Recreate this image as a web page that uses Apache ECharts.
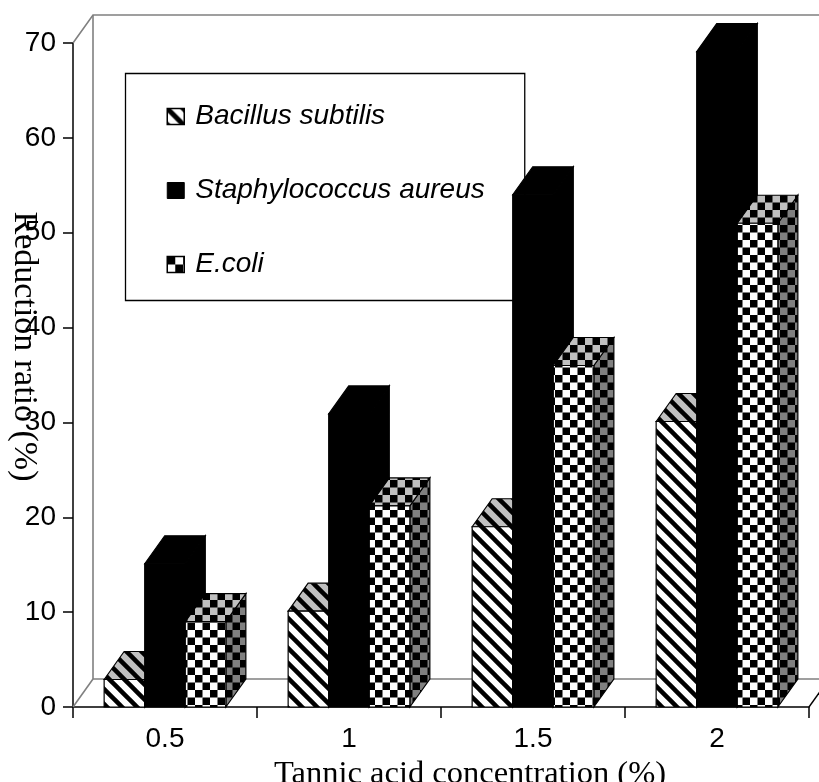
<!DOCTYPE html>
<html><head><meta charset="utf-8">
<style>html,body{margin:0;padding:0;background:#fff}#c{width:819px;height:782px}</style>
<script src="https://cdn.jsdelivr.net/npm/echarts@6/dist/echarts.min.js"></script>
</head><body><div id="c"></div>
<script>
const categories = ['0.5','1','1.5','2'];
const bacillus = [2.9,10.1,19,30.1];
const staph = [15.1,30.9,54,69.1];
const ecoli = [9,21.2,36,51];
const seriesNames = ['Bacillus subtilis','Staphylococcus aureus','E.coli'];
const yTicks = {min:0,max:70,interval:10};

function tile(w,h,draw){const c=document.createElement('canvas');c.width=w;c.height=h;draw(c.getContext('2d'),w,h);return {image:c,repeat:'repeat'};}
function stripes(bg,period,lw){return tile(period,period,(g,w,h)=>{
  g.fillStyle=bg;g.fillRect(0,0,w,h);
  g.strokeStyle='#000';g.lineWidth=lw;
  [-w,0,w].forEach(o=>{g.beginPath();g.moveTo(o-4,-4);g.lineTo(o+w+4,h+4);g.stroke();});
});}
function checks(bg,cell){const p=cell*2;return tile(p,p,(g)=>{
  g.fillStyle=bg;g.fillRect(0,0,p,p);
  g.fillStyle='#000';g.fillRect(0,0,cell,cell);g.fillRect(cell,cell,cell,cell);
});}
const P={
 0:{front:stripes('#fff',15,4.5),top:stripes('#c0c0c0',15,4.5),side:stripes('#808080',15,4.5)},
 1:{front:'#000',top:'#000',side:'#000'},
 2:{front:checks('#fff',7.5),top:checks('#c0c0c0',7.5),side:checks('#808080',7.5)}
};
const DX=20,DY=28;
function barRender(si){return function(params,api){
  const i=api.value(0),v=api.value(1);
  const base=api.coord([i,0]),topP=api.coord([i,v]);
  const band=api.size([1,0])[0];
  const w=band*0.2205;
  const x=base[0]+(si-1.5)*w;
  const yT=topP[1],yB=base[1];
  const line={stroke:'#000',lineWidth:1.2};
  return {type:'group',children:[
    {type:'polygon',shape:{points:[[x+w,yT],[x+w+DX,yT-DY],[x+w+DX,yB-DY],[x+w,yB]]},style:Object.assign({fill:P[si].side},line)},
    {type:'polygon',shape:{points:[[x,yT],[x+DX,yT-DY],[x+w+DX,yT-DY],[x+w,yT]]},style:Object.assign({fill:P[si].top},line)},
    {type:'rect',shape:{x:x,y:yT,width:w,height:yB-yT},style:Object.assign({fill:P[si].front},line)}
  ]};
};}
function wallRender(params,api){
  const r=params.coordSys;
  const g={stroke:'#808080',lineWidth:1.6,fill:null};
  const L=r.x,B=r.y+r.height,T=r.y,R=r.x+r.width;
  return {type:'group',silent:true,children:[
    {type:'polyline',shape:{points:[[L,T],[L+DX,T-DY],[R+DX,T-DY]]},style:g},
    {type:'polyline',shape:{points:[[L+DX,T-DY],[L+DX,B-DY],[R+DX,B-DY]]},style:g},
    {type:'line',shape:{x1:L,y1:B,x2:L+DX,y2:B-DY},style:g},
    {type:'line',shape:{x1:R,y1:B,x2:R+DX,y2:B-DY},style:{stroke:'#000',lineWidth:1.4}}
  ]};
}
function mk(name,vals,si){return {name:name,type:'custom',coordinateSystem:'cartesian2d',clip:false,z:5,
  renderItem:barRender(si),encode:{x:0,y:1},itemStyle:{color:si===1?'#000':'#888'},
  data:vals.map((v,i)=>[i,v])};}

const legendData=[
 {name:seriesNames[0],itemStyle:{color:stripes('#fff',16,5),borderColor:'#000',borderWidth:1.5}},
 {name:seriesNames[1],itemStyle:{color:'#000',borderColor:'#000',borderWidth:1}},
 {name:seriesNames[2],itemStyle:{color:checks('#fff',8),borderColor:'#000',borderWidth:1.5}}
];

const chart=echarts.init(document.getElementById('c'),null,{renderer:'canvas'});
chart.setOption({
  animation:false,backgroundColor:'#fff',
  grid:{left:73,right:10,top:43,bottom:75,outerBoundsMode:'none'},
  legend:{show:true,orient:'vertical',left:125.5,top:73.5,itemWidth:17,itemHeight:16,itemGap:46,
    icon:'rect',padding:[29,40,22,41],borderColor:'#000',borderWidth:1.3,backgroundColor:'#fff',z:2,
    selectedMode:false,data:legendData,
    textStyle:{fontFamily:'Liberation Sans',fontStyle:'italic',fontSize:28,color:'#000',padding:[0,0,0,6]}},
  xAxis:{type:'category',data:categories,boundaryGap:true,
    axisLine:{lineStyle:{color:'#000',width:1.5}},axisTick:{show:true,length:11,alignWithLabel:false,lineStyle:{color:'#000',width:1.5}},
    axisLabel:{fontFamily:'Liberation Sans',fontSize:28,color:'#000',margin:18},
    name:'Tannic acid concentration (%)',nameLocation:'middle',nameGap:50,
    nameTextStyle:{fontFamily:'Liberation Serif',fontSize:32.5,color:'#000',padding:[0,0,0,58]}},
  yAxis:{type:'value',min:yTicks.min,max:yTicks.max,interval:yTicks.interval,splitLine:{show:false},
    axisLine:{show:true,lineStyle:{color:'#000',width:1.5}},axisTick:{show:true,length:10,lineStyle:{color:'#000',width:1.5}},
    axisLabel:{fontFamily:'Liberation Sans',fontSize:28,color:'#000',margin:17},
    name:'Reduction ratio (%)',nameLocation:'middle',nameRotate:-90,nameGap:49,nameMoveOverlap:false,
    nameTextStyle:{fontFamily:'Liberation Serif',fontSize:34,color:'#000',padding:[0,57,0,0],verticalAlign:'middle'}},
  series:[
    {type:'custom',name:'walls',silent:true,clip:false,z:1,renderItem:wallRender,data:[[0,0]],encode:{x:0,y:1}},
    mk(seriesNames[0],bacillus,0),mk(seriesNames[1],staph,1),mk(seriesNames[2],ecoli,2)
  ]
});
</script></body></html>
